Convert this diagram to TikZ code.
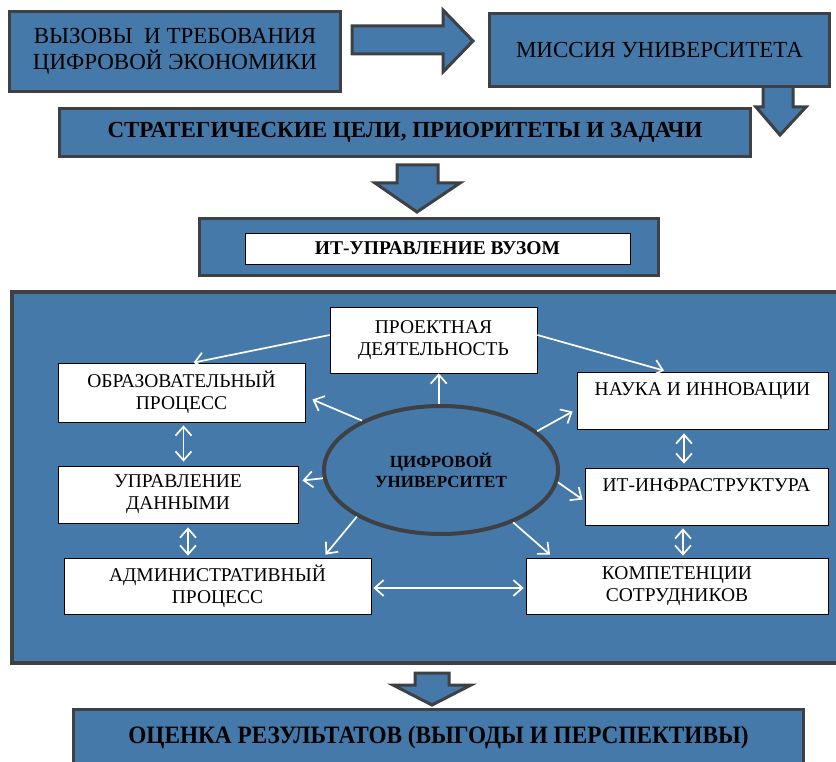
\documentclass[tikz,border=0pt]{standalone}
\usepackage{fontspec}
\setmainfont{Liberation Serif}
\usetikzlibrary{arrows.meta,shapes.geometric,calc}
\definecolor{sb}{RGB}{69,121,169}
\definecolor{bd}{RGB}{62,64,68}
\begin{document}
\begin{tikzpicture}[x=1pt,y=-1pt,
  bluebox/.style={draw=bd,fill=sb,line width=3pt,inner sep=0pt,align=center},
  whitebox/.style={draw=black,fill=white,line width=0.8pt,inner sep=0pt,align=center,font=\fontsize{19.5}{22}\selectfont},
  blockarrow/.style={draw=bd,fill=sb,line width=3pt,line join=miter},
  barb/.tip={Straight Barb[length=9pt,width=16pt,line width=1.7pt]},
  wl/.style={draw=white,line width=1.7pt,-barb},
  wd/.style={draw=white,line width=1.7pt,barb-barb},
  bigtext/.style={font=\fontsize{23}{26.5}\selectfont},
  boldtext/.style={font=\fontsize{23}{26}\selectfont\bfseries},
]
\useasboundingbox (0,0) rectangle (836,762);
\fill[white] (0,0) rectangle (836,762);

% block arrows
\draw[blockarrow] (352,26) -- (443,26) -- (443,10) -- (473,41) -- (443,72) -- (443,54) -- (352,54) -- cycle;
\draw[blockarrow] (763,80) -- (793,80) -- (793,107) -- (806,107) -- (780,135) -- (756,107) -- (763,107) -- cycle;
\draw[blockarrow] (397,165) -- (438,165) -- (438,183) -- (460,183) -- (417,212) -- (375,183) -- (397,183) -- cycle;
\draw[blockarrow] (415,673) -- (449,673) -- (449,685) -- (471,685) -- (432,705) -- (393,685) -- (415,685) -- cycle;

% top boxes
\node[bluebox,bigtext,minimum width=331,minimum height=80] (chal) at (175,51.5)
  {ВЫЗОВЫ~~И ТРЕБОВАНИЯ\\ЦИФРОВОЙ ЭКОНОМИКИ};
\node[bluebox,bigtext,minimum width=340,minimum height=73] (miss) at (659.5,50)
  {МИССИЯ УНИВЕРСИТЕТА};
\node[bluebox,boldtext,minimum width=691,minimum height=48] (strat) at (405,132.5)
  {СТРАТЕГИЧЕСКИЕ ЦЕЛИ, ПРИОРИТЕТЫ И ЗАДАЧИ};
\node[bluebox,minimum width=459,minimum height=57] (itgov) at (429,247) {};
\node[draw=black,fill=white,line width=0.8pt,inner sep=0pt,minimum width=385,minimum height=31,
  font=\fontsize{19.5}{22}\selectfont\bfseries] (itgovt) at (437.5,248.5) {ИТ-УПРАВЛЕНИЕ ВУЗОМ};

% big panel
\node[bluebox,line width=4pt,minimum width=833,minimum height=371] (panel) at (428.5,477.5) {};

\node[whitebox,minimum width=207,minimum height=66] (proj) at (433.5,340) {ПРОЕКТНАЯ\\ДЕЯТЕЛЬНОСТЬ};
\node[whitebox,minimum width=247,minimum height=59] (obr) at (181.5,392.5) {ОБРАЗОВАТЕЛЬНЫЙ\\ПРОЦЕСС};
\node[whitebox,minimum width=251,minimum height=57] (nauka) at (702.5,400.5) {НАУКА И ИННОВАЦИИ\\\mbox{}};
\node[whitebox,minimum width=240,minimum height=57] (upr) at (178,494.5) {УПРАВЛЕНИЕ\\ДАННЫМИ};
\node[whitebox,minimum width=243,minimum height=57] (it) at (706.5,496.5) {ИТ-ИНФРАСТРУКТУРА\\\mbox{}};
\node[whitebox,minimum width=307,minimum height=56] (adm) at (217.5,586) {АДМИНИСТРАТИВНЫЙ\\ПРОЦЕСС};
\node[whitebox,minimum width=302,minimum height=56] (komp) at (677,586) {КОМПЕТЕНЦИИ\\СОТРУДНИКОВ};

\node[ellipse,draw=bd,fill=sb,line width=4pt,inner sep=0pt,minimum width=234,minimum height=128,align=center,
  font=\fontsize{17}{20}\selectfont\bfseries] (eu) at (441,470) {ЦИФРОВОЙ\\УНИВЕРСИТЕТ};

% connectors
\draw[wl] (eu.92) -- (eu.92 |- proj.south);
\draw[wl] (eu.148) -- ([shift={(7,7)}]obr.east);
\draw[wl] (eu.184) -- ([shift={(4,-14)}]upr.east);
\draw[wl] (eu.209) -- ([shift={(108,-3)}]adm.north);
\draw[wl] (eu.324) -- ([shift={(-127,-3)}]komp.north);
\draw[wl] (eu.354) -- ([shift={(-2,3)}]it.west);
\draw[wl] (eu.22) -- ([shift={(-4,11)}]nauka.west);
\draw[wl] ([shift={(0,-5)}]proj.west) -- ([shift={(12,0)}]obr.north);
\draw[wl] ([shift={(0,-5)}]proj.east) -- ([shift={(-38.5,-1)}]nauka.north);
\draw[wd] ([shift={(2,2)}]adm.east) -- ([shift={(-2,2)}]komp.west);
\draw[wd] ($(obr.south)+(2,3)$) -- ($(obr.south |- upr.north)+(2,-4)$);
\draw[wd] ($(upr.south)+(10,4)$) -- ($(upr.south |- adm.north)+(10,-2)$);
\draw[wd] ($(nauka.south)+(-18.5,4)$) -- ($(nauka.south |- it.north)+(-18.5,-4)$);
\draw[wd] ($(komp.north |- it.south)+(6,3)$) -- ($(komp.north)+(6,-2)$);

% bottom box
\node[bluebox,minimum width=730,minimum height=55,
  font=\fontsize{25}{28}\selectfont\bfseries] (res) at (438.5,737)
  {\scalebox{0.93}[1]{ОЦЕНКА РЕЗУЛЬТАТОВ (ВЫГОДЫ И ПЕРСПЕКТИВЫ)}};
\end{tikzpicture}
\end{document}
